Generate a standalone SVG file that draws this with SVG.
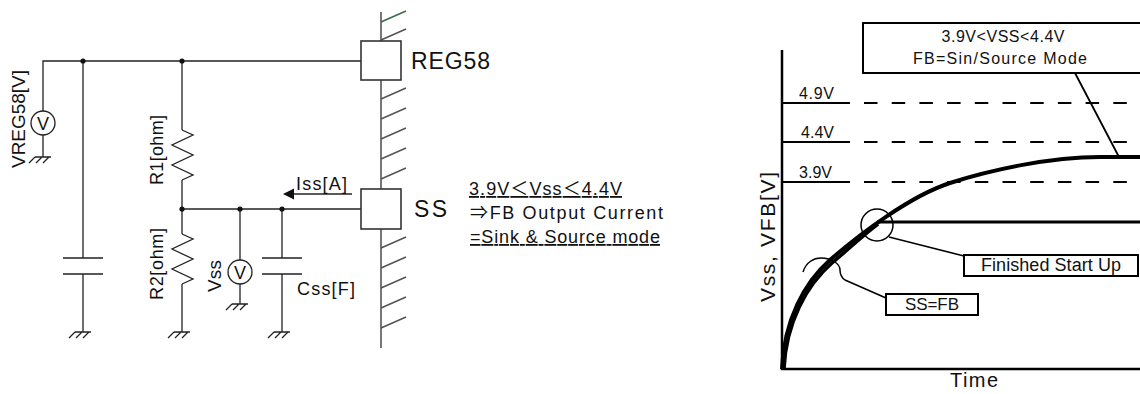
<svg xmlns="http://www.w3.org/2000/svg" width="1140" height="394" viewBox="0 0 1140 394">
<style>
.w{stroke:#222;stroke-width:1.3;fill:none}
.gb{stroke:#555;stroke-width:1.6;fill:none}
.t{font-family:"Liberation Sans","Noto Sans CJK JP",sans-serif;fill:#111}
.k{stroke:#000;fill:none}
.dot{fill:#111}
.box{fill:#fff;stroke:#333;stroke-width:1.6}
.gbx{fill:#fff;stroke:#000;stroke-width:2}
.dash{stroke:#000;stroke-width:2;fill:none}
</style>
<defs>
<g id="gnd" class="w"><path d="M-8,0H8M-8,0L-14,6M-1,0L-7,6M6,0L0,6"/></g>
</defs>
<rect width="1140" height="394" fill="#fff"/>

<!-- IC edge -->
<g id="ic-edge">
<path class="gb" d="M381,12V348"/>
<path class="gb" d="M381,22L406,11" style="stroke:#3d6b4a"/>
<path class="gb" d="M381,40L406,29M381,99L406,88M381,119L406,108M381,139L406,128M381,159L406,148M381,179L406,168M381,248L406,237M381,268L406,257M381,288L406,277M381,308L406,297M381,328L406,317"/>
</g>

<!-- connectors -->
<g id="connectors" class="w">
<path d="M43,157V135M43,111V61H361"/>
<path d="M83,61V258M83,274V332"/>
<path d="M182,61V130M182,180V234M182,284V332"/>
<path d="M182,209H361"/>
<path d="M240,209V260M240,284V304"/>
<path d="M282,209V258M282,274V332"/>
<path d="M352,194H292"/>
<polygon points="283,194 294,188.5 294,199.5" fill="#111" stroke="none"/>
</g>

<g id="dots" class="dot">
<circle cx="83" cy="61" r="2.6"/><circle cx="182" cy="61" r="2.6"/><circle cx="182" cy="209" r="2.6"/><circle cx="240" cy="209" r="2.6"/><circle cx="282" cy="209" r="2.6"/>
</g>

<g id="grounds">
<use href="#gnd" x="43" y="157"/><use href="#gnd" x="83" y="332"/><use href="#gnd" x="182" y="332"/><use href="#gnd" x="240" y="304"/><use href="#gnd" x="282" y="332"/>
</g>

<g id="vreg58-source">
<circle class="w" cx="43" cy="123" r="12"/>
<text class="t" x="43" y="129.5" font-size="18" text-anchor="middle">V</text>
<text class="t" font-size="19" text-anchor="middle" textLength="98" transform="translate(25,119) rotate(-90)">VREG58[V]</text>
</g>

<g id="c1"><path class="w" d="M63,258H103M63,274H103"/></g>

<g id="r1">
<path class="w" d="M182,130L193,135 172,145 193,155 172,165 193,175 182,180"/>
<text class="t" font-size="18" text-anchor="middle" textLength="70" transform="translate(163,150) rotate(-90)">R1[ohm]</text>
</g>

<g id="r2">
<path class="w" d="M182,234L193,239 172,249 193,259 172,269 193,279 182,284"/>
<text class="t" font-size="18" text-anchor="middle" textLength="72" transform="translate(163,264) rotate(-90)">R2[ohm]</text>
</g>

<g id="vss-meter">
<circle class="w" cx="240" cy="272" r="12"/>
<text class="t" x="240" y="278.5" font-size="18" text-anchor="middle">V</text>
<text class="t" font-size="19" text-anchor="middle" textLength="32" transform="translate(221,276) rotate(-90)">Vss</text>
</g>

<g id="css">
<path class="w" d="M262,258H302M262,274H302"/>
<text class="t" x="297" y="295" font-size="18" textLength="58">Css[F]</text>
</g>

<g id="iss-label"><text class="t" x="296" y="190" font-size="18" textLength="51">Iss[A]</text></g>

<g id="reg58-pin">
<rect class="box" x="361" y="41" width="40" height="39"/>
<text class="t" x="411" y="69" font-size="23" textLength="79">REG58</text>
</g>

<g id="ss-pin">
<rect class="box" x="361" y="189" width="40" height="40"/>
<text class="t" x="414" y="217" font-size="23" textLength="33">SS</text>
</g>

<g id="ss-note" class="t" font-size="18">
<text x="469" y="195" textLength="153" text-decoration="underline">3.9V＜Vss＜4.4V</text>
<text x="470" y="219" textLength="193">⇒FB Output Current</text>
<text x="470" y="243" textLength="190" text-decoration="underline">=Sink &amp; Source mode</text>
</g>

<!-- graph -->
<g id="graph-axes">
<path class="k" stroke-width="2.5" d="M782,50V369H1140"/>
<text class="t" x="974" y="387" font-size="20" text-anchor="middle" textLength="48">Time</text>
<text class="t" font-size="21" text-anchor="middle" textLength="130" transform="translate(775,237) rotate(-90)">Vss, VFB[V]</text>
</g>

<g id="levels">
<path class="dash" d="M782,103H850M782,142H850M782,182H850"/>
<path class="dash" stroke-dasharray="13.5 14.2" d="M864,103H1140M864,142H1140M864,182H1140"/>
<text class="t" x="799" y="99" font-size="16" textLength="35">4.9V</text>
<text class="t" x="801" y="138" font-size="16" textLength="33">4.4V</text>
<text class="t" x="799" y="178" font-size="16" textLength="33">3.9V</text>
</g>

<g id="curves">
<path class="k" stroke-width="4" d="M782,369C784,320 805,282 830,260C860,234 910,196 950,183C990,170 1050,157 1100,157H1140"/>
<path class="k" stroke-width="3.5" d="M784,369C786,322 807,285 832,263C850,248 862,236 878,224"/>
<path class="k" stroke-width="3" d="M877,222H1140"/>
</g>

<g id="mode-callout">
<rect class="gbx" x="863" y="23" width="280" height="50"/>
<text class="t" x="1003" y="42" font-size="16" text-anchor="middle" textLength="123">3.9V&lt;VSS&lt;4.4V</text>
<text class="t" x="1000" y="64" font-size="16" text-anchor="middle" textLength="174">FB=Sin/Source Mode</text>
<path class="k" stroke-width="1.8" d="M1075,73L1119,157"/>
</g>

<g id="finished-callout">
<circle class="k" stroke-width="1.5" cx="877" cy="225" r="16"/>
<path class="k" stroke-width="1.6" d="M889,237L964,256"/>
<rect class="gbx" x="964" y="255" width="174" height="21"/>
<text class="t" x="1051" y="271" font-size="18" text-anchor="middle" textLength="140">Finished Start Up</text>
</g>

<g id="ssfb-callout">
<path class="k" stroke-width="1.5" d="M803,272C806,262 814,258 821,258C832,258 840,264 840,270C840,275 842,278 845,280L886,298"/>
<rect class="gbx" x="886" y="294" width="92" height="21"/>
<text class="t" x="932" y="310" font-size="17" text-anchor="middle" textLength="54">SS=FB</text>
</g>
</svg>
